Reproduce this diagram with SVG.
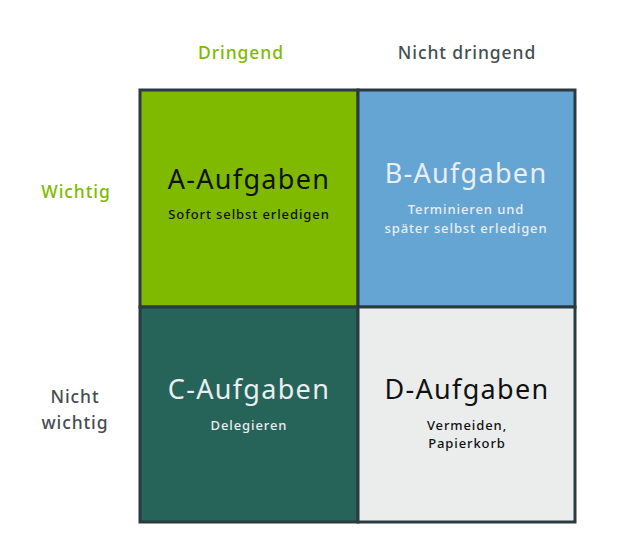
<svg xmlns="http://www.w3.org/2000/svg" width="636" height="560" viewBox="0 0 636 560">
<style>
text{font-family:"Noto Sans","DejaVu Sans",sans-serif;text-anchor:middle}
.cell{stroke:#2a3a41;stroke-width:3}
.h{font-size:27px;letter-spacing:1.3px}
.s{font-size:13px;letter-spacing:0.9px;font-weight:500}
.lbl{font-size:17.5px;letter-spacing:0.9px;font-weight:500}
.dark{fill:#111}
.light{fill:#e9eef0}
</style>
<rect width="636" height="560" fill="#fff"/>
<g id="header-dringend"><text class="lbl" x="241" y="59" fill="#7fba00">Dringend</text></g>
<g id="header-nicht-dringend"><text class="lbl" x="467" y="59" fill="#454d51">Nicht dringend</text></g>
<g id="row-wichtig"><text class="lbl" x="76" y="198" fill="#7fba00">Wichtig</text></g>
<g id="row-nicht-wichtig"><text class="lbl" x="75" y="403" fill="#454d51">Nicht</text><text class="lbl" x="75" y="429" fill="#454d51">wichtig</text></g>
<g id="A">
<rect class="cell" x="140" y="90" width="218" height="217" fill="#7fba00"/>
<text class="h dark" x="249" y="189">A-Aufgaben</text>
<text class="s dark" x="249" y="219">Sofort selbst erledigen</text>
</g>
<g id="B">
<rect class="cell" x="358" y="90" width="217" height="217" fill="#65a5d4"/>
<text class="h light" x="466" y="183">B-Aufgaben</text>
<text class="s light" x="466" y="214">Terminieren und</text>
<text class="s light" x="466" y="233">später selbst erledigen</text>
</g>
<g id="C">
<rect class="cell" x="140" y="307" width="218" height="215" fill="#266359"/>
<text class="h light" x="249" y="399">C-Aufgaben</text>
<text class="s light" x="249" y="430">Delegieren</text>
</g>
<g id="D">
<rect class="cell" x="358" y="307" width="217" height="215" fill="#ebeded"/>
<text class="h dark" x="467" y="399">D-Aufgaben</text>
<text class="s dark" x="467" y="430">Vermeiden,</text>
<text class="s dark" x="467" y="448">Papierkorb</text>
</g>
<g id="connectors"/>
</svg>
